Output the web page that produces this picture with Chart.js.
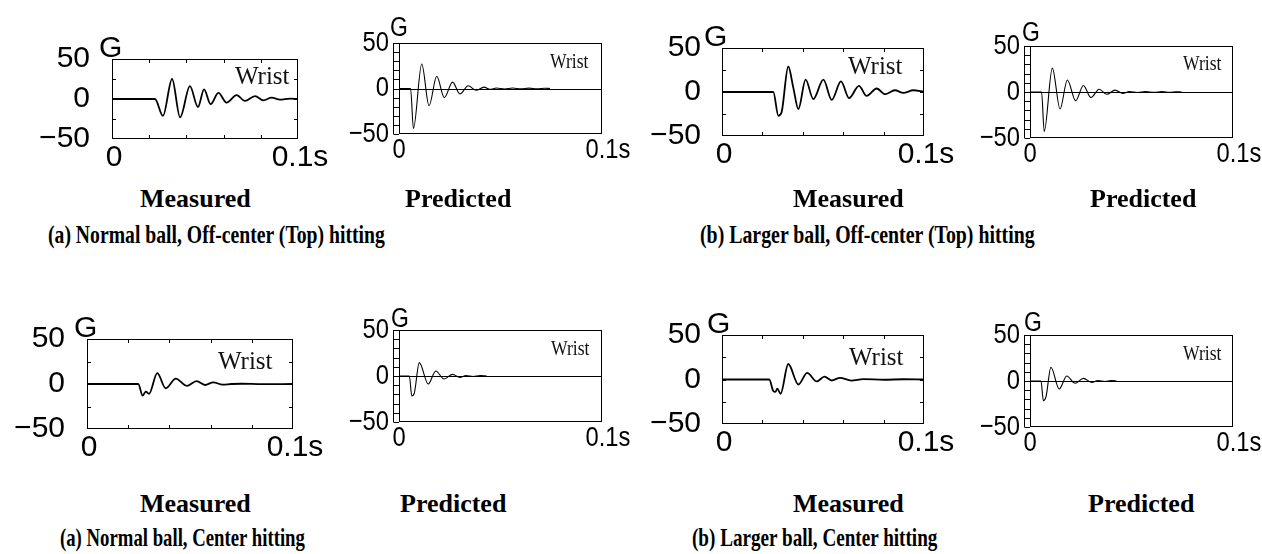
<!DOCTYPE html>
<html>
<head>
<meta charset="utf-8">
<script src="https://cdn.jsdelivr.net/npm/chart.js@4.4.1/dist/chart.umd.min.js"></script>
<style>
  html, body { margin: 0; padding: 0; background: #fff; }
  #fig { position: relative; width: 1262px; height: 554px; overflow: hidden; background: #fff; }
  #fig canvas { position: absolute; }
  .unit { position: absolute; line-height: 1; color: #000; white-space: nowrap; transform-origin: 0 0; }
  .site { position: absolute; line-height: 1; font-family: 'Liberation Serif', 'Times New Roman', serif; color: #111; white-space: nowrap; transform-origin: 0 0; }
  .cap { position: absolute; line-height: 1; font-family: 'Liberation Serif', 'Times New Roman', serif; font-weight: bold; color: #000; white-space: nowrap; transform-origin: 0 0; }
</style>
</head>
<body>
<div id="fig"></div>
<script>
// Wrist acceleration (G) against time (ms); peaks and troughs of each trace.
const offTopNormalMeasT = [0, 23.1, 27.4, 32.3, 36.6, 41.9, 46.2, 49.5, 53.0, 57.2, 61.6, 67.0, 71.5, 76.9, 81.4, 85.8, 90.3, 95.7, 100];
const offTopNormalMeasV = [0, 0, -21, 25, -23, 16, -10, 12, -6.5, 7.7, -4.5, 4.9, -2.4, 3.7, -1.6, 1.6, -0.8, 0.5, 0];

const offTopNormalPredT = [0, 5.7, 7.1, 11.2, 14.8, 18.6, 22.3, 26.4, 30.0, 34.1, 38.0, 41.9, 44.8, 48, 52, 56, 60, 64, 68, 72, 74.4];
const offTopNormalPredV = [0, 0, -44, 27, -19, 13.5, -10, 7, -6, 3, -2, 1.5, -1, 0.6, -0.5, 0.5, -0.4, 0.4, -0.3, 0.3, 0];

const offTopLargeMeasT = [0, 25.4, 27.9, 29.5, 32.8, 35.3, 37.8, 41.4, 45.2, 50.2, 54.3, 58.9, 62.9, 67.8, 71.6, 76.6, 80.7, 85.6, 89.8, 94.7, 100];
const offTopLargeMeasV = [0, 0, -27, -23, 29, 5, -19.5, 14, -8, 14, -9, 12, -7, 7, -4.5, 4, -2.5, 2, -1, 2, 0.5];

const offTopLargePredT = [0, 5.7, 7.0, 11.0, 14.8, 18.4, 22.5, 26.3, 30.0, 34.1, 37.8, 41.9, 45.7, 49, 53, 57, 61, 65, 69, 72, 74.7];
const offTopLargePredV = [0, 0, -43, 26, -18.5, 13, -9.5, 7, -6, 3, -2.5, 2, -1.5, 0.6, -0.5, 0.5, -0.4, 0.4, -0.3, 0.3, 0];

const centerNormalMeasT = [0, 24.9, 27.0, 28.5, 30.1, 34.1, 38.2, 43.1, 48.4, 53.2, 57.3, 61.3, 65.8, 70, 75, 85, 100];
const centerNormalMeasV = [0, 0, -13, -8.4, -11, 12, -4.7, 6, -2, 3.3, -1.1, 1.8, -0.7, 0, 0.3, -0.2, 0];

const centerNormalPredT = [0, 5.1, 6.3, 7.5, 10.0, 14.4, 18.1, 22.2, 26.4, 30.0, 33, 36.5, 40, 43.2];
const centerNormalPredV = [0, 0, -21.7, -19, 14.5, -8.7, 5.4, -3.3, 1.8, -1.5, 0.6, -0.5, 0.5, 0];

const centerLargeMeasT = [0, 23.4, 25.4, 26.4, 27.4, 29.0, 32.8, 37.8, 42.2, 46.9, 50.7, 54.3, 58.4, 64, 70, 80, 90, 100];
const centerLargeMeasV = [0, 0, -13, -14, -10.4, -16, 17.4, -5.6, 7.4, -2.2, 3.3, -1.1, 1.9, -1.2, 0.5, -0.3, 0.3, 0];

const centerLargePredT = [0, 5.4, 6.6, 7.9, 10.3, 14.4, 18.1, 22.2, 26.3, 30.4, 33.5, 37, 40, 42.7];
const centerLargePredV = [0, 0, -21.4, -17, 15, -8.7, 5.4, -2.5, 2.9, -1.5, 0.6, -0.5, 0.5, 0];

// Axis ticks and labels
const xTickValues = [0, 20, 40, 60, 80, 100];
const xLabelValues = [0, 100];
const xLabelText = ['0', '0.1s'];
const yTickMeasured = [-50, -25, 0, 25, 50];
const yTickPredicted = [-50, -40, -30, -20, -10, 0, 10, 20, 30, 40, 50];
const yLabelValues = [-50, 0, 50];
const yLabelText = ['\u221250', '0', '50'];
const unitText = 'G';
const siteText = 'Wrist';

// Captions
const panelKinds = ['Measured', 'Predicted'];
const caseTitles = [
  '(a) Normal ball, Off-center (Top) hitting',
  '(b) Larger ball, Off-center (Top) hitting',
  '(a) Normal ball, Center hitting',
  '(b) Larger ball, Center hitting'
];

const SANS = "'Liberation Sans', Arial, sans-serif";
const NARROW_SQUEEZE = 0.85;

// Frame, inner ticks, ruler, zero line and the narrow labels of the model plots
const framePlugin = {
  id: 'frame',
  afterDatasetsDraw(chart, args, opts) {
    const { ctx, chartArea: a, scales: { x, y } } = chart;
    ctx.save();
    ctx.strokeStyle = '#000';
    ctx.lineWidth = 1;
    ctx.strokeRect(Math.round(a.left) + 0.5, Math.round(a.top) + 0.5, Math.round(a.width) - 1, Math.round(a.height) - 1);
    ctx.beginPath();
    if (opts.kind === 'measured') {
      x.ticks.forEach(t => {
        if (t.value <= 0 || t.value >= 100) return;
        const px = Math.round(x.getPixelForValue(t.value)) + 0.5;
        ctx.moveTo(px, a.top); ctx.lineTo(px, a.top + 4);
        ctx.moveTo(px, a.bottom); ctx.lineTo(px, a.bottom - 4);
      });
      y.ticks.forEach(t => {
        if (t.value <= -50 || t.value >= 50) return;
        const py = Math.round(y.getPixelForValue(t.value)) + 0.5;
        ctx.moveTo(a.left, py); ctx.lineTo(a.left + 4, py);
        ctx.moveTo(a.right, py); ctx.lineTo(a.right - 4, py);
      });
    } else {
      const rx = Math.round(a.left) - 5.5;
      ctx.moveTo(rx, a.top); ctx.lineTo(rx, a.bottom);
      y.ticks.forEach(t => {
        const py = Math.round(y.getPixelForValue(t.value)) + 0.5;
        ctx.moveTo(rx, py); ctx.lineTo(a.left, py);
      });
      const zy = Math.round(y.getPixelForValue(0)) + 0.5;
      ctx.moveTo(a.left, zy); ctx.lineTo(a.right, zy);
    }
    ctx.stroke();

    if (opts.kind !== 'measured') {
      ctx.fillStyle = '#000';
      ctx.font = '28px ' + SANS;
      ctx.textBaseline = 'middle';
      yLabelValues.forEach((v, i) => {
        ctx.save();
        ctx.translate(a.left - 10, y.getPixelForValue(v));
        ctx.scale(NARROW_SQUEEZE, 1);
        ctx.textAlign = 'right';
        ctx.fillText(yLabelText[i], 0, 0);
        ctx.restore();
      });
      xLabelValues.forEach((v, i) => {
        const txt = xLabelText[i];
        const num = txt.replace(/s$/, '');
        ctx.save();
        ctx.translate(x.getPixelForValue(v), a.bottom + 16);
        ctx.scale(NARROW_SQUEEZE, 1);
        ctx.textAlign = 'left';
        ctx.fillText(txt, -ctx.measureText(num).width / 2, 0);
        ctx.restore();
      });
    }
    ctx.restore();
  }
};

const panels = [
  { kind: 'measured',  t: offTopNormalMeasT, v: offTopNormalMeasV, box: { l: 112, t: 57, r: 298, b: 139 }, yPad: 14, g: { x: 99, y: 36 },  site: { x: 235, y: 67 } },
  { kind: 'predicted', t: offTopNormalPredT, v: offTopNormalPredV, box: { l: 399, t: 43, r: 602, b: 134 }, yPad: 11, g: { x: 390, y: 18 }, site: { x: 550, y: 55 } },
  { kind: 'measured',  t: offTopLargeMeasT,  v: offTopLargeMeasV,  box: { l: 722, t: 47, r: 924, b: 136 }, yPad: 13, g: { x: 704, y: 25 }, site: { x: 848, y: 57 } },
  { kind: 'predicted', t: offTopLargePredT,  v: offTopLargePredV,  box: { l: 1030, t: 46, r: 1233, b: 138 }, yPad: 11, g: { x: 1022, y: 23 }, site: { x: 1183, y: 57 } },
  { kind: 'measured',  t: centerNormalMeasT, v: centerNormalMeasV, box: { l: 87, t: 337, r: 293, b: 429 }, yPad: 14, g: { x: 74, y: 316 }, site: { x: 218, y: 352 } },
  { kind: 'predicted', t: centerNormalPredT, v: centerNormalPredV, box: { l: 399, t: 330, r: 602, b: 422 }, yPad: 11, g: { x: 391, y: 309 }, site: { x: 551, y: 342 } },
  { kind: 'measured',  t: centerLargeMeasT,  v: centerLargeMeasV,  box: { l: 722, t: 334, r: 924, b: 424 }, yPad: 13, g: { x: 707, y: 312 }, site: { x: 849, y: 348 } },
  { kind: 'predicted', t: centerLargePredT,  v: centerLargePredV,  box: { l: 1030, t: 335, r: 1233, b: 427 }, yPad: 11, g: { x: 1024, y: 313 }, site: { x: 1183, y: 347 } }
];

const fig = document.getElementById('fig');

function addText(cls, text, x, y, css) {
  const d = document.createElement('div');
  d.className = cls;
  d.textContent = text;
  d.style.left = x + 'px';
  d.style.top = y + 'px';
  Object.assign(d.style, css || {});
  fig.appendChild(d);
  return d;
}

function buildPanel(p) {
  const measured = p.kind === 'measured';
  const w = p.box.r - p.box.l, h = p.box.b - p.box.t;
  const PL = 80, PT = 30, PR = 48, PB = 40;
  const cv = document.createElement('canvas');
  cv.width = w + PL + PR;
  cv.height = h + PT + PB;
  cv.style.left = (p.box.l - PL) + 'px';
  cv.style.top = (p.box.t - PT) + 'px';
  cv.style.width = cv.width + 'px';
  cv.style.height = cv.height + 'px';
  fig.appendChild(cv);

  const tickFont = { family: SANS, size: 30 };

  new Chart(cv, {
    type: 'line',
    data: {
      datasets: [{
        data: p.t.map((t, i) => ({ x: t, y: p.v[i] })),
        borderColor: '#000',
        borderWidth: measured ? 1.8 : 1.1,
        pointRadius: 0,
        cubicInterpolationMode: 'monotone',
        fill: false
      }]
    },
    options: {
      responsive: false,
      animation: false,
      devicePixelRatio: 1,
      layout: { padding: { left: 0, top: PT, right: PR, bottom: 0 } },
      plugins: { legend: { display: false }, tooltip: { enabled: false }, frame: { kind: p.kind } },
      scales: {
        x: {
          type: 'linear', min: 0, max: 100,
          grid: { display: false }, border: { display: false },
          afterBuildTicks(s) { s.ticks = xTickValues.map(v => ({ value: v })); },
          afterFit(s) { s.height = PB; },
          ticks: {
            display: measured,
            autoSkip: false, maxRotation: 0, minRotation: 0, padding: -7, labelOffset: 2, color: '#000', font: tickFont,
            callback(v) { const i = xLabelValues.indexOf(v); return i >= 0 ? xLabelText[i] : ''; }
          }
        },
        y: {
          type: 'linear', min: -50, max: 50,
          grid: { display: false }, border: { display: false },
          afterBuildTicks(s) { s.ticks = (measured ? yTickMeasured : yTickPredicted).map(v => ({ value: v })); },
          afterFit(s) { s.width = PL; },
          ticks: {
            display: measured,
            autoSkip: false, padding: p.yPad, color: '#000', font: tickFont,
            callback(v) { const i = yLabelValues.indexOf(v); return i >= 0 ? yLabelText[i] : ''; }
          }
        }
      }
    },
    plugins: [framePlugin]
  });

  // unit mark above the axis and the measuring site inside the plot
  if (measured) {
    addText('unit', unitText, p.g.x, p.g.y - 0.13 * 30, { fontFamily: SANS, fontSize: '30px' });
    addText('site', siteText, p.site.x, p.site.y - 0.1755 * 25, { fontSize: '25px' });
  } else {
    addText('unit', unitText, p.g.x, p.g.y - 0.13 * 27, { fontFamily: SANS, fontSize: '27px', transform: 'scaleX(' + NARROW_SQUEEZE + ')' });
    addText('site', siteText, p.site.x, p.site.y - 0.1755 * 21, { fontSize: '21px', transform: 'scaleX(0.84)' });
  }
}

panels.forEach(buildPanel);

// Captions under each pair of panels
const KIND_SIZE = 26;
const TITLE_SIZE = 26;
const captionRows = [
  { kindY: 191, titleY: 227 },
  { kindY: 496, titleY: 530 }
];
const kindX = [[140, 405], [793, 1090], [140, 400], [793, 1088]];
const titleX = [48, 700, 60, 692];
const titleW = [337, 335, 245, 245];
caseTitles.forEach((title, i) => {
  const row = captionRows[i < 2 ? 0 : 1];
  panelKinds.forEach((k, j) => addText('cap', k, kindX[i][j], row.kindY - 0.1755 * KIND_SIZE, { fontSize: KIND_SIZE + 'px' }));
  const d = addText('cap', title, titleX[i], row.titleY - 0.1755 * TITLE_SIZE, { fontSize: TITLE_SIZE + 'px' });
  d.style.transform = 'scaleX(' + (titleW[i] / d.offsetWidth).toFixed(3) + ')';
});
</script>
</body>
</html>
